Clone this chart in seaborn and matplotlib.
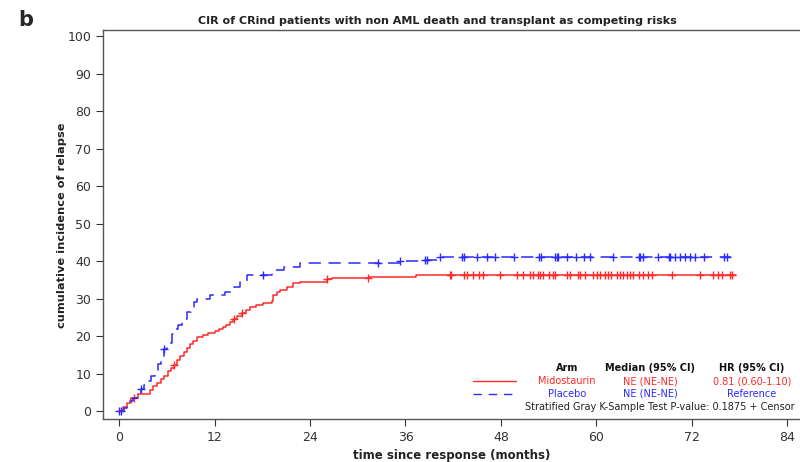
import matplotlib
matplotlib.use("Agg")
import matplotlib.pyplot as plt
import numpy as np
import pandas as pd
import seaborn as sns

# step curves (months, cumulative incidence %)
mido_t = [0.0, 0.5, 1.0, 1.5, 2.4, 3.9, 4.3, 4.8, 5.3, 5.7, 6.1, 6.5, 6.9, 7.3, 7.7,
          8.1, 8.5, 8.9, 9.3, 9.8, 10.5, 11.2, 12.0, 12.5, 13.0, 13.5, 13.9, 14.3,
          14.8, 15.4, 16.0, 16.5, 17.2, 18.1, 19.2, 19.4, 19.8, 20.2, 21.1, 21.9,
          22.7, 26.1, 26.8, 31.4, 37.3, 77.6]
mido_y = [0.0, 1.2, 2.3, 3.4, 4.5, 5.6, 6.7, 7.6, 8.5, 9.5, 10.6, 11.5, 12.4, 13.6, 14.8,
          15.8, 16.9, 17.8, 18.7, 19.8, 20.4, 20.9, 21.5, 21.9, 22.4, 22.9, 23.7, 24.6,
          25.3, 26.1, 26.9, 27.7, 28.3, 28.9, 29.3, 30.9, 31.8, 32.4, 33.0, 34.1,
          34.3, 35.1, 35.5, 35.8, 36.3, 36.3]

plac_t = [0.0, 0.6, 1.0, 1.4, 1.8, 2.2, 2.7, 3.1, 3.5, 4.0, 4.5, 4.9, 5.3, 5.6, 6.0,
          6.6, 7.0, 7.4, 7.9, 8.5, 9.0, 9.4, 9.8, 11.4, 13.3, 14.5, 15.2, 16.1, 19.2,
          20.7, 22.8, 35.3, 38.2, 40.4, 76.9]
plac_y = [0.0, 0.8, 1.6, 2.6, 3.5, 4.6, 6.0, 7.0, 8.0, 9.4, 10.7, 12.5, 14.5, 16.5, 18.3,
          20.7, 21.8, 22.9, 24.6, 26.5, 27.8, 29.0, 30.0, 30.9, 31.8, 33.0, 34.5, 36.3, 37.6,
          38.3, 39.4, 40.0, 40.4, 41.1, 41.1]

# censoring times
mido_cens = [1.9, 6.9, 14.4, 15.4, 26.1, 31.3, 41.6, 41.7, 43.3, 43.7, 44.5, 45.2, 45.8,
             47.9, 50.0, 50.8, 51.7, 52.0, 52.7, 52.9, 53.3, 54.0, 54.6, 54.8, 56.3, 56.7,
             57.7, 57.9, 58.6, 59.6, 60.1, 60.5, 61.1, 61.5, 61.9, 62.6, 63.0, 63.4, 63.8,
             64.2, 64.6, 65.3, 65.9, 66.5, 67.0, 69.5, 73.0, 74.7, 75.3, 75.8, 76.8, 77.1]
plac_cens = [0.0, 0.3, 2.7, 5.6, 18.1, 32.6, 35.3, 38.5, 38.7, 40.4, 43.1, 43.3, 45.0,
             46.2, 47.3, 49.6, 52.8, 53.1, 54.8, 55.0, 55.2, 56.3, 57.5, 58.4, 59.2, 62.1,
             65.3, 65.5, 65.9, 67.8, 69.1, 69.3, 69.9, 70.5, 71.2, 71.8, 72.4, 73.5, 76.0,
             76.4]

RED = "#ff2a2a"
BLUE = "#2a2aff"


def cens_df(times, t, y):
    t = np.array(t)
    y = np.array(y)
    idx = np.searchsorted(t, times, side="right") - 1
    return pd.DataFrame({"t": times, "y": y[np.clip(idx, 0, None)]})


sns.set_style("ticks")
plt.rcParams["font.family"] = ["DejaVu Sans"]

fig = plt.figure(figsize=(8, 4.62), dpi=100)
ax = fig.add_axes([0.129, 0.093, 0.871, 0.842])

sns.lineplot(x=mido_t, y=mido_y, ax=ax, color=RED, lw=1.1, drawstyle="steps-post",
             estimator=None, sort=False)
sns.lineplot(x=plac_t, y=plac_y, ax=ax, color=BLUE, lw=1.1, drawstyle="steps-post",
             estimator=None, sort=False, linestyle=(0, (8, 5)))

cm = cens_df(mido_cens, mido_t, mido_y)
cp = cens_df(plac_cens, plac_t, plac_y)
sns.scatterplot(data=cm, x="t", y="y", ax=ax, marker="+", color=RED, s=32, linewidth=1.0)
sns.scatterplot(data=cp, x="t", y="y", ax=ax, marker="+", color=BLUE, s=32, linewidth=1.0)

ax.set_xlim(-2.0, 85.6)
ax.set_ylim(-2.1, 101.6)
ax.set_xticks(np.arange(0, 85, 12))
ax.set_yticks(np.arange(0, 101, 10))
ax.tick_params(labelsize=9, colors="#333333", length=5, width=0.8)
for s in ["left", "bottom", "top"]:
    ax.spines[s].set_color("#555555")
    ax.spines[s].set_linewidth(1.0)
ax.spines["right"].set_visible(False)
ax.set_xlabel("")
ax.set_ylabel("")

fig.text(18 / 800, 1 - 20 / 462, "b", fontsize=15, fontweight="bold", va="center")
fig.text(437 / 800, 1 - 21 / 462, "CIR of CRind patients with non AML death and transplant as competing risks",
         fontsize=8, fontweight="bold", ha="center", va="center", color="#222222")
fig.text(62 / 800, 1 - 225 / 462, "cumulative incidence of relapse", rotation=90,
         fontsize=8.2, fontweight="bold", ha="center", va="center", color="#222222")
fig.text(452 / 800, 1 - 456 / 462, "time since response (months)",
         fontsize=8.5, fontweight="bold", ha="center", va="center", color="#222222")

# legend table
fs = 7
cols = [567, 650, 752]
heads = ["Arm", "Median (95% CI)", "HR (95% CI)"]
rows = [["Midostaurin", "NE (NE-NE)", "0.81 (0.60-1.10)"],
        ["Placebo", "NE (NE-NE)", "Reference"]]
for cx, h in zip(cols, heads):
    fig.text(cx / 800, 1 - 368 / 462, h, fontsize=fs, fontweight="bold", ha="center",
             va="center", color="#111111")
for ry, row, c in zip([381, 394], rows, [RED, BLUE]):
    for cx, txt in zip(cols, row):
        fig.text(cx / 800, 1 - ry / 462, txt, fontsize=fs, ha="center", va="center", color=c)
fig.add_artist(plt.Line2D([473 / 800, 516 / 800], [1 - 381 / 462] * 2, color=RED, lw=1.0))
fig.add_artist(plt.Line2D([473 / 800, 512 / 800], [1 - 394 / 462] * 2, color=BLUE, lw=1.0,
                          linestyle=(0, (6, 5))))
fig.text(795 / 800, 1 - 407 / 462, "Stratified Gray K-Sample Test P-value: 0.1875 + Censor",
         fontsize=fs, ha="right", va="center", color="#222222")

fig.savefig("out.png", dpi=100)
